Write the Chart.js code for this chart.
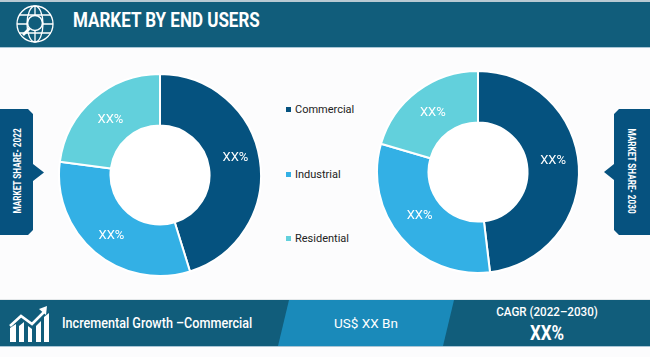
<!DOCTYPE html>
<html>
<head>
<meta charset="utf-8">
<script src="https://cdn.jsdelivr.net/npm/chart.js@4/dist/chart.umd.min.js"></script>
<style>
    html, body { margin: 0; padding: 0; background: #fff; }
    #stage { position: relative; width: 650px; height: 357px; overflow: hidden; background: #fcfcfd; font-family: Roboto, sans-serif; }
    #stage canvas { position: absolute; }
    .abs { position: absolute; white-space: nowrap; }
    .legendItem { position: absolute; left: 286px; font-size: 11px; line-height: 14px; color: #222; white-space: nowrap; }
    .legendItem i { display: inline-block; width: 5px; height: 5px; margin-right: 4px; vertical-align: 1px; }
</style>
</head>
<body>
<div id="stage">
    <div class="abs" style="left:0;top:0;width:650px;height:2px;background:#b9c9d2"></div>
    <div class="abs" style="left:0;top:2px;width:650px;height:45px;background:#115d7b"></div>
    <div class="abs" style="left:0;top:47px;width:650px;height:1px;background:#a9c6d6"></div>
    <svg class="abs" style="left:14px;top:5px" width="42" height="38" viewBox="0 0 42 38" fill="none" stroke="#fff" stroke-width="1.3">
        <circle cx="21" cy="19" r="18"/>
        <ellipse cx="21" cy="19" rx="8" ry="18"/>
        <path d="M21 1V37M5 10H37M5 28H37M3 19H39"/>
        <circle cx="21" cy="18" r="7.5" fill="#115d7b" stroke-width="1.6"/>
        <path d="M15.5 23.5L9 30" stroke-width="2.6"/>
    </svg>
    <div class="abs" style="left:73px;top:8px;font-size:20px;line-height:24px;font-weight:700;color:#fff;transform-origin:left center;transform:scaleX(0.85)">MARKET BY END USERS</div>

    <canvas id="chart2022" width="210" height="210" style="left:55px;top:70px"></canvas>
    <canvas id="chart2030" width="210" height="210" style="left:373px;top:67px"></canvas>

    <div id="legend"></div>

    <svg class="abs" style="left:0;top:109px" width="44" height="127">
        <path d="M0 0H28L33 5V55L44 63.5L33 72V121L28 126H0Z" fill="#06527f"/>
    </svg>
    <div class="abs" style="left:17px;top:171px;font-size:10px;font-weight:700;color:#fff;transform:translate(-50%,-50%) rotate(-90deg) scaleX(0.82)">MARKET SHARE- 2022</div>
    <svg class="abs" style="left:604px;top:109px" width="46" height="127">
        <path d="M46 0H15L10 5V55L0 63L10 71V121L15 126H46Z" fill="#06527f"/>
    </svg>
    <div class="abs" style="left:631px;top:171px;font-size:10px;font-weight:700;color:#fff;transform:translate(-50%,-50%) rotate(90deg) scaleX(0.82)">MARKET SHARE- 2030</div>

    <div class="abs" style="left:0;top:299px;width:650px;height:1px;background:#e4e8ea"></div>
    <div class="abs" style="left:0;top:300px;width:650px;height:46px;background:#115d7b"></div>
    <div class="abs" style="left:278px;top:300px;width:176px;height:46px;background:#1a8aba;clip-path:polygon(11px 0,176px 0,165px 46px,0 46px)"></div>
    <div class="abs" style="left:0;top:346px;width:650px;height:1px;background:#a9c6d6"></div>
    <svg class="abs" style="left:9px;top:306px" width="40" height="36" fill="#fff">
        <path d="M1 36V22L7 18V36Z"/>
        <path d="M10 20L15 16V36H10Z"/>
        <path d="M19 20L23 23V36H19Z"/>
        <path d="M27 20L32 15V36H27Z"/>
        <path d="M35 11V36H40V7Z"/>
        <path d="M1 20L12 10L23 18L36 5" fill="none" stroke="#fff" stroke-width="2.6"/>
        <path d="M30 3L38 0L37 9Z"/>
    </svg>
    <div class="abs" style="left:62px;top:314px;font-size:15px;line-height:18px;font-weight:500;color:#fff;transform-origin:left center;transform:scaleX(0.84)">Incremental Growth –Commercial</div>
    <div class="abs" style="left:334px;top:314px;font-size:13.5px;line-height:18px;color:#fff">US$ XX Bn</div>
    <div class="abs" style="left:547px;top:303px;font-size:13.5px;line-height:16px;font-weight:500;color:#fff;transform:translateX(-50%) scaleX(0.86)">CAGR (2022–2030)</div>
    <div class="abs" style="left:547px;top:321px;font-size:20px;line-height:24px;font-weight:700;color:#fff;transform:translateX(-50%) scaleX(0.85)">XX%</div>
</div>

<script>
const categories = ['Commercial', 'Industrial', 'Residential'];
const share2022 = [45.2, 31.9, 22.9];
const share2030 = [48.1, 31.4, 20.5];
const shareLabels = ['XX%', 'XX%', 'XX%'];
const sliceColors = ['#05527f', '#33b0e5', '#62d0dc'];

// nudges from the arc's own centre to where the original put its text
const labelNudge2022 = [[1, -6], [0, 3], [0, 1]];
const labelNudge2030 = [[0, -7], [-1, -5], [0, 1]];

const sliceLabels = {
    id: 'sliceLabels',
    afterDatasetsDraw(chart, args, opts) {
        const ctx = chart.ctx;
        const arcs = chart.getDatasetMeta(0).data;
        ctx.save();
        ctx.font = '400 13px Roboto, sans-serif';
        ctx.fillStyle = '#fff';
        ctx.textAlign = 'center';
        ctx.textBaseline = 'middle';
        arcs.forEach((arc, i) => {
            const p = arc.tooltipPosition();
            ctx.fillText(shareLabels[i], p.x + opts.nudge[i][0], p.y + opts.nudge[i][1]);
        });
        ctx.restore();
    }
};

const holeFill = {
    id: 'holeFill',
    beforeDatasetsDraw(chart) {
        const arc = chart.getDatasetMeta(0).data[0];
        const ctx = chart.ctx;
        ctx.save();
        ctx.fillStyle = '#ffffff';
        ctx.beginPath();
        ctx.arc(arc.x, arc.y, 52, 0, Math.PI * 2);
        ctx.fill();
        ctx.restore();
    }
};

function drawDonut(id, values, nudge) {
    new Chart(document.getElementById(id), {
        type: 'doughnut',
        plugins: [holeFill, sliceLabels],
        data: {
            labels: categories,
            datasets: [{
                data: values,
                backgroundColor: sliceColors,
                borderColor: '#ffffff',
                borderWidth: 2
            }]
        },
        options: {
            responsive: false,
            animation: false,
            radius: 101,
            cutout: 51,
            layout: { padding: 0 },
            plugins: {
                legend: { display: false },
                tooltip: { enabled: false },
                sliceLabels: { nudge: nudge }
            }
        }
    });
}

drawDonut('chart2022', share2022, labelNudge2022);
drawDonut('chart2030', share2030, labelNudge2030);

const legendTops = [103, 168, 232];
document.getElementById('legend').innerHTML = categories.map((name, i) =>
    `<div class="legendItem" style="top:${legendTops[i]}px"><i style="background:${sliceColors[i]}"></i>${name}</div>`
).join('');
</script>
</body>
</html>
